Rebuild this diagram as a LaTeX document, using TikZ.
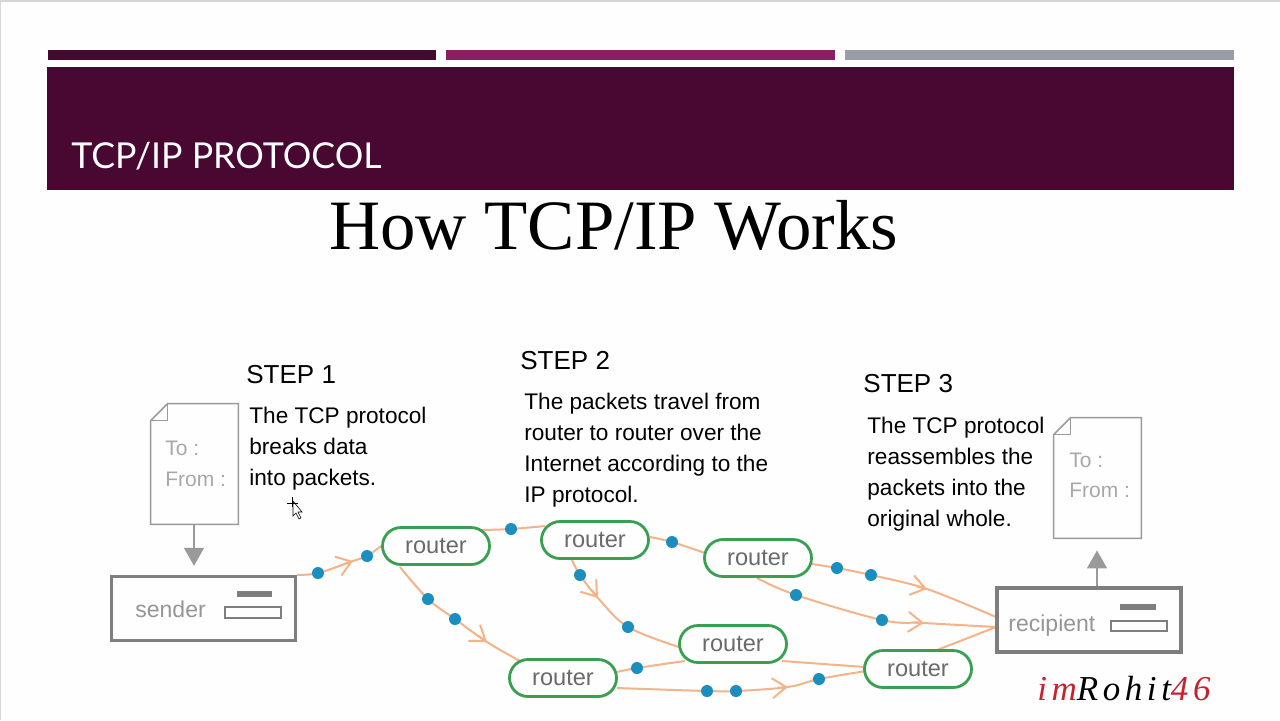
\documentclass[tikz,border=0pt]{standalone}
\usepackage{fontspec}
\setmainfont{Liberation Sans}
\newfontfamily\titlefont{Lato}
\newfontfamily\headfont{Liberation Serif}
\newfontfamily\markfont[LetterSpace=13]{Liberation Serif}
\usetikzlibrary{shapes.misc,arrows.meta,calc,backgrounds}
\definecolor{pageW}{HTML}{FEFEFE}
\definecolor{edgeG}{HTML}{D6D6D6}
\definecolor{plumA}{HTML}{440A2F}
\definecolor{plumB}{HTML}{480831}
\definecolor{magB}{HTML}{8A1F63}
\definecolor{greyB}{HTML}{9A9DA8}
\definecolor{wireC}{HTML}{F2B488}
\definecolor{dotC}{HTML}{1A8FBF}
\definecolor{routerC}{HTML}{38A050}
\definecolor{boxC}{HTML}{7E7E7E}
\definecolor{docC}{HTML}{9A9A9A}
\definecolor{labelC}{HTML}{6A6A6A}
\definecolor{softC}{HTML}{A8A8A8}
\definecolor{markR}{HTML}{C8202E}
\tikzset{
  routerbox/.style={rounded rectangle,draw=routerC,line width=1.4pt,fill=pageW,minimum width=53.5pt,minimum height=18.5pt,inner sep=0pt,font=\fontsize{11.8}{13}\selectfont,text=labelC},
  hostbox/.style={rectangle,draw=boxC,line width=1.7pt,minimum width=92pt,minimum height=32pt,inner sep=0pt},
  hostlabel/.style={font=\fontsize{11.5}{13}\selectfont,text=softC!70!labelC,inner sep=0pt},
  docbox/.style={rectangle,minimum width=43.5pt,minimum height=60pt,inner sep=0pt},
  docline/.style={draw=docC,line width=.8pt,line join=round},
  doctext/.style={font=\fontsize{10.5}{13}\selectfont,text=softC,inner sep=0pt,anchor=base west},
  pkt/.style={circle,fill=dotC,minimum size=6pt,inner sep=0pt},
  wire/.style={draw=wireC,line width=1pt},
  gridarrow/.style={draw=docC,line width=.8pt},
  stephead/.style={font=\fontsize{13}{15}\selectfont,inner sep=0pt,anchor=base west},
  stepbody/.style={font=\fontsize{11.3}{15.5}\selectfont,inner sep=0pt,anchor=north west,align=left},
  slotbar/.style={draw=boxC,fill=pageW,line width=.6pt},
  slotdark/.style={fill=boxC}
}
\newcommand{\wirepath}[1]{\draw[wire] plot[smooth,tension=.6] coordinates {#1};}
\newcommand{\chevron}[2]{\draw[wire,-{Straight Barb[length=7pt,width=10pt,line width=1pt]}] ($(#2)!5pt!(#1)$) -- (#2);}
\newcommand{\rlabel}{\raisebox{-.6pt}{router}}
\begin{document}
\begin{tikzpicture}[x=.5pt,y=-.5pt]
\useasboundingbox (0,0) rectangle (1280,720);
\begin{scope}[on background layer]
  \fill[pageW] (0,0) rectangle (1280,720);
  \fill[edgeG] (0,0) rectangle (1280,1.6);
  \fill[edgeG] (0,0) rectangle (1.2,720);
\end{scope}
% header
\fill[plumA] (48,50) rectangle (436,60);
\fill[magB] (446,50) rectangle (835,60);
\fill[greyB] (845,50) rectangle (1234,60);
\fill[plumB] (47,67) rectangle (1234,190);
\node[font=\titlefont\fontsize{17.85}{20}\selectfont,text=white,inner sep=0pt,anchor=base west] (title) at (71,168) {TCP/IP PROTOCOL};
\node[font=\headfont\fontsize{35.4}{40}\selectfont,inner sep=0pt,anchor=base west] (heading) at (329,249) {How TCP/IP Works};
% steps
\node[stephead] (s1) at (246,383) {STEP 1};
\node[stepbody] (t1) at (249,407) {The TCP protocol\\breaks data\\into packets.};
\node[stephead] (s2) at (520,369) {STEP 2};
\node[stepbody] (t2) at (524,393) {The packets travel from\\router to router over the\\Internet according to the\\IP protocol.};
\node[stephead] (s3) at (863,392) {STEP 3};
\node[stepbody] (t3) at (867,417) {The TCP protocol\\reassembles the\\packets into the\\original whole.};
% hosts
\node[hostbox] (sender) at (203.5,608.5) {};
\node[hostbox] (recipient) at (1089,620) {};
\node[hostlabel,anchor=base west] (senderL) at (135,617) {sender};
\node[hostlabel,anchor=base west] (recipL) at (1008,631) {recipient};
\fill[slotdark] (237,591) rectangle (272,597);
\draw[slotbar] (225,607) rectangle (281,618);
\fill[slotdark] (1120,604) rectangle (1156,610);
\draw[slotbar] (1111,621) rectangle (1167,631);
% documents
\node[docbox] (doc1) at (194.5,464) {};
\node[docbox] (doc2) at (1097.5,478) {};
\draw[docline] ($(doc1.north west)+(17,0)$) -- (doc1.north east) -- (doc1.south east) -- (doc1.south west) -- ($(doc1.north west)+(0,17)$) -- cycle;
\draw[docline] ($(doc1.north west)+(17,0)$) -- ($(doc1.north west)+(17,17)$) -- ($(doc1.north west)+(0,17)$);
\draw[docline] ($(doc2.north west)+(17,0)$) -- (doc2.north east) -- (doc2.south east) -- (doc2.south west) -- ($(doc2.north west)+(0,17)$) -- cycle;
\draw[docline] ($(doc2.north west)+(17,0)$) -- ($(doc2.north west)+(17,17)$) -- ($(doc2.north west)+(0,17)$);
\node[doctext] (to1) at (165,455) {To :};
\node[doctext] (from1) at (165,486) {From :};
\node[doctext] (to2) at (1069,467) {To :};
\node[doctext] (from2) at (1069,497) {From :};
\draw[gridarrow,-{Triangle[length=9pt,width=10pt]},shorten >=4.5pt] (doc1.south -| 194,524) -- (sender.north -| 194,575);
\draw[gridarrow,-{Triangle[length=9pt,width=10pt]},shorten >=6pt] (recipient.north -| 1097,587) -- (doc2.south -| 1097,538);
% routers
\node[routerbox] (r1) at (436,546) {\rlabel};
\node[routerbox] (r2) at (595,540) {\rlabel};
\node[routerbox] (r3) at (758,558) {\rlabel};
\node[routerbox] (r4) at (733,644) {\rlabel};
\node[routerbox] (r5) at (563,678) {\rlabel};
\node[routerbox] (r6) at (918,669) {\rlabel};
% packets
\foreach \n/\x/\y in {a1/318/573,a2/367/556,b1/511/529,c1/428/599,c2/455/619,d1/672/542,e1/580/575,e2/628/627,f1/837/568,f2/871/575,g1/796/595,g2/882/620,h1/637/668,i1/707/691,i2/736/691,i3/819/679}
  \node[pkt] (\n) at (\x,\y) {};
% chevron points
\coordinate (ca) at (353,561);
\coordinate (cc) at (487,642);
\coordinate (ce) at (598,598);
\coordinate (cf) at (927,589);
\coordinate (cg) at (924,623);
\coordinate (ci) at (788,687);
% ports on the node borders
\coordinate (r1b) at ($(r1)+(44,-16)$);
\coordinate (r1c) at ($(r1)+(-36,21)$);
\coordinate (r2a) at ($(r2)+(-50,-14)$);
\coordinate (r2d) at ($(r2)+(55,-3)$);
\coordinate (r2e) at ($(r2)+(-23,20)$);
\coordinate (r3d) at ($(r3)+(-53,-5)$);
\coordinate (r3f) at ($(r3)+(54,6)$);
\coordinate (r3g) at ($(r3)+(-1,20)$);
\coordinate (r4e) at ($(r4)+(-54,3)$);
\coordinate (r4s) at ($(r4)+(49,17)$);
\coordinate (r4h) at ($(r4)+(-48,17)$);
\coordinate (r5c) at ($(r5)+(-43,-17)$);
\coordinate (r5h) at ($(r5)+(54,-6)$);
\coordinate (r5i) at ($(r5)+(54,10)$);
\coordinate (r6t) at ($(r6)+(19,-19)$);
\coordinate (r6s) at ($(r6)+(-53,-2)$);
\coordinate (r6i) at ($(r6)+(-52,2)$);
\coordinate (rca) at ($(recipient)+(-93,-3)$);
\coordinate (rcb) at ($(recipient)+(-93,7)$);
% connectors
\begin{scope}[on background layer]
  \wirepath{(sender.north east) (a1) (ca) (a2) (r1.west)}
  \wirepath{(r1b) (b1) (r2a)}
  \wirepath{(r1c) (c1) (c2) (cc) (r5c)}
  \wirepath{(r2d) (d1) (r3d)}
  \wirepath{(r2e) (e1) (ce) (e2) (r4e)}
  \wirepath{(r3f) (f1) (f2) (cf) (rca)}
  \wirepath{(r3g) (g1) (g2) (cg) (rcb)}
  \wirepath{(r6t) (rcb)}
  \wirepath{(r4s) (r6s)}
  \wirepath{(r5h) (h1) (r4h)}
  \wirepath{(r5i) (i1) (i2) (ci) (i3) (r6i)}
  \chevron{a1}{ca}
  \chevron{c2}{cc}
  \chevron{e1}{ce}
  \chevron{f2}{cf}
  \chevron{g2}{cg}
  \chevron{i2}{ci}
\end{scope}
% cursor
\draw[black,line width=.3pt,fill=white] (293,501) -- (293,516) -- (296,513) -- (299,519) -- (301,518) -- (298,512) -- (302,512) -- cycle;
\draw[black,line width=.35pt] (292.5,497) -- (292.5,507) (287,503) -- (298,503);
% watermark
\node[font=\markfont\itshape\fontsize{17.5}{18}\selectfont,inner sep=0pt,anchor=base west] (mark) at (1037,700) {\textcolor{markR}{im}\textcolor{black}{Rohit}\textcolor{markR}{46}};
\end{tikzpicture}
\end{document}
